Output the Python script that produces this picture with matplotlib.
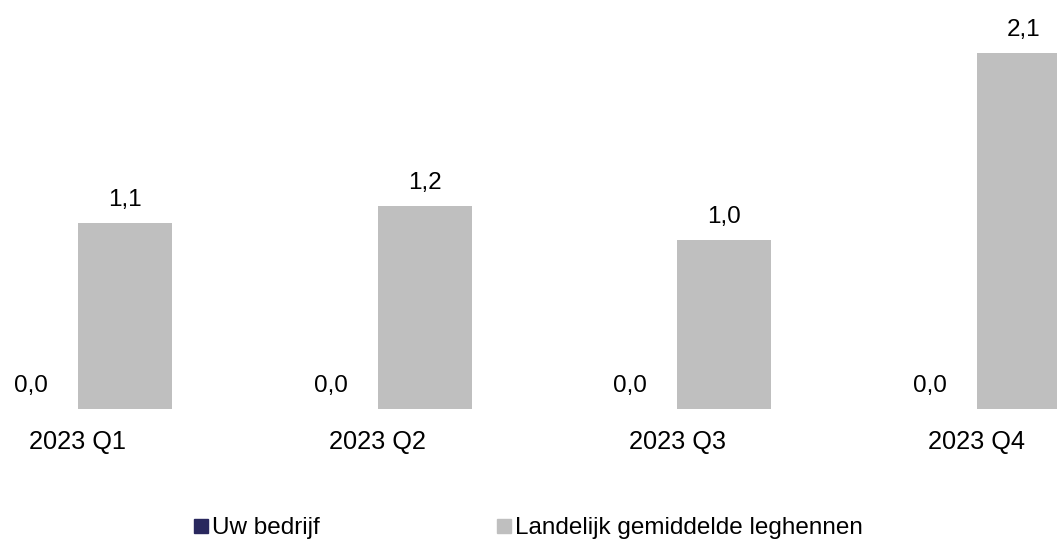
import matplotlib
matplotlib.use("Agg")
import matplotlib.pyplot as plt
from matplotlib.lines import Line2D
import numpy as np

categories = ["2023 Q1", "2023 Q2", "2023 Q3", "2023 Q4"]
series_names = ["Uw bedrijf", "Landelijk gemiddelde leghennen"]
uw_bedrijf = [0.0, 0.0, 0.0, 0.0]
landelijk = [1.1, 1.2, 1.0, 2.1]
colors = ["#29285E", "#BFBFBF"]

plt.rcParams['font.family'] = ['Liberation Sans', 'DejaVu Sans']
FS = 17.5

fig = plt.figure(figsize=(10.57, 5.46), dpi=100)
ax = fig.add_axes([0, 137/546, 1, 409/546])

x = np.arange(len(categories))
w = 0.3136
b1 = ax.bar(x - w/2, uw_bedrijf, w, color=colors[0])
b2 = ax.bar(x + w/2, landelijk, w, color=colors[1])

def fmt(v):
    return f"{v:.1f}".replace(".", ",")

for bars, vals in ((b1, uw_bedrijf), (b2, landelijk)):
    for r, v in zip(bars, vals):
        ax.annotate(fmt(v), (r.get_x() + r.get_width()/2, r.get_height()),
                    xytext=(0, 12), textcoords="offset points",
                    ha="center", va="baseline", fontsize=FS, color="#000000")

ax.set_xlim(-0.26, 3.267)
ax.set_ylim(0, 2.413)
ax.set_xticks(x)
ax.set_xticklabels(categories, fontsize=18.3)
ax.tick_params(axis="x", length=0, pad=15)
ax.set_yticks([])
for s in ax.spines.values():
    s.set_visible(False)

handles = [Line2D([], [], marker="s", linestyle="none", markersize=10,
                  markerfacecolor=c, markeredgecolor=c) for c in colors]
fig.legend(handles, series_names, loc="center", bbox_to_anchor=(0.5, 1 - 528/546),
           ncol=2, frameon=False, fontsize=FS, handlelength=0.6, handletextpad=0.15,
           columnspacing=7.3, borderaxespad=0)

fig.savefig("out.png", dpi=100)
